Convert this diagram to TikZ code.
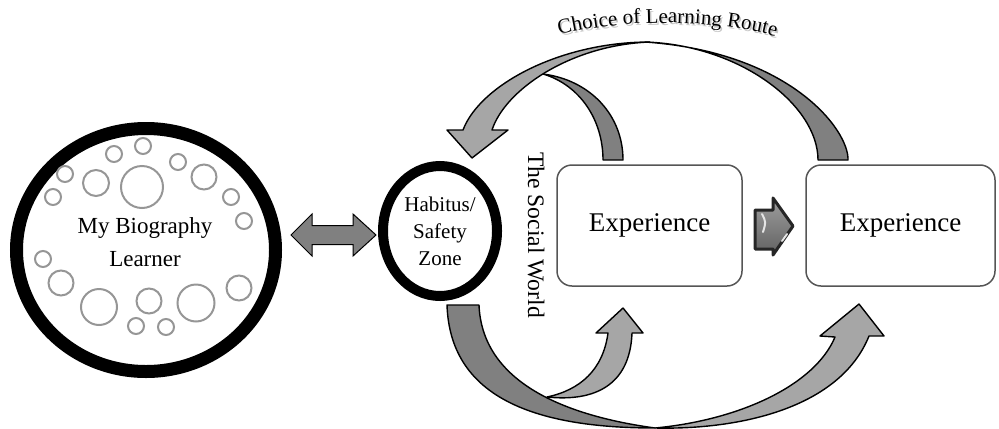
\documentclass[tikz,border=0pt]{standalone}
\usepackage{fontspec}
\setmainfont{Liberation Serif}
\usepackage{tikz}
\usetikzlibrary{shapes.geometric,positioning,calc,decorations.text}
\definecolor{bandlight}{RGB}{166,166,166}
\definecolor{banddark}{RGB}{128,128,128}
\definecolor{boxline}{RGB}{85,85,85}
\definecolor{bubble}{RGB}{150,150,150}

\begin{document}
\begin{tikzpicture}[x=0.5pt, y=-0.5pt,
        ring/.style={ellipse, draw=black, inner sep=0pt},
        expbox/.style={rectangle, rounded corners=7.5pt, draw=boxline, line width=0.75pt, minimum height=60.5pt, font=\fontsize{13.5}{16}\selectfont},
        band/.style={draw=black, line width=0.7pt, line join=round},
        bubbledot/.style={draw=bubble, line width=1pt}
    ]
        \useasboundingbox (0,0) rectangle (999,428);

        % My Biography
        \node[ring, line width=6.5pt, minimum width=129.5pt, minimum height=121.5pt] (bio) at (146,250) {};
        \foreach \bx/\by/\br in {143/146/8, 114/154/8, 178/162/8, 65/174/8, 96/183/13, 142/187/21,
                204/177/12.5, 53/197/8, 231/197/8, 244/221/8, 43/259/8, 61/283/12.5, 99/307/18,
                149/301/12.5, 196/303/18.5, 239/288/12.5, 136/326/8, 166/327/8}
            \draw[bubbledot] (\bx,\by) circle[radius=\br];
        \node[font=\fontsize{11.5}{16.5}\selectfont, align=center] (biotxt) at (145,242) {My Biography\\Learner};

        % Habitus
        \node[ring, line width=5pt, minimum width=57pt, minimum height=65pt, font=\fontsize{10.5}{13.5}\selectfont, align=center] (hab) at (440,231) {Habitus/\\Safety\\Zone};
        \node[rotate=-90, font=\fontsize{11.8}{14}\selectfont] (social) at (536,235) {The Social World};

        % Experiences
        \node[expbox, minimum width=92.5pt] (exp1) at (649.5,225.5) {Experience};
        \node[expbox, minimum width=94.5pt] (exp2) at (900.5,225.5) {Experience};

        % Link biography - habitus
        \draw[fill=banddark, line width=0.5pt] (291,235) -- (312,214) -- (312,225.5) -- (353,225.5) -- (353,214) -- (376,235)
            -- (353,256) -- (353,244.5) -- (312,244.5) -- (312,256) -- cycle;

        % Step between experiences
        \path[draw=black!85, line width=1.5pt, line join=round, top color=black!38, bottom color=black!62]
            (755,210) -- (773,210) -- (773,198) -- (793,226) -- (773,255) -- (773,249) -- (755,249) -- cycle;
        \draw[white!80!gray, line width=1pt, line cap=round] (762,214) .. controls (766,222) .. (763,232);
        \draw[white!80!gray, line width=1pt, line cap=round] (782,241) -- (787,234);

        % Choice of Learning Route
        \path[decorate, decoration={text along path, text align=center, text color=gray!45,
                text={|\fontsize{10.5}{12}\selectfont|Choice of Learning Route}}]
            (551.5,39) .. controls (621.5,20) and (716.5,20) .. (786.5,41);
        \path[decorate, decoration={text along path, text align=center,
                text={|\fontsize{10.5}{12}\selectfont|Choice of Learning Route}}]
            (550,37) .. controls (620,18) and (715,18) .. (785,39);

        % Top bands
        \draw[band, fill=banddark] (848,160) .. controls (849,130) and (790,52) .. (645,42)
            .. controls (740,45) and (818,105) .. (818,160) -- cycle;
        \draw[band, fill=banddark] (623,160) .. controls (623,115) and (590,80) .. (543,74)
            .. controls (580,85) and (603,120) .. (603,160) -- cycle;
        \draw[band, fill=bandlight] (650,42) .. controls (560,42) and (480,85) .. (463,130) -- (447,130) -- (472,158)
            -- (508,130) -- (492,130) .. controls (505,90) and (570,45) .. (650,42) -- cycle;

        % Bottom bands
        \draw[band, fill=banddark] (447,305) .. controls (450,395) and (530,428) .. (655,428)
            .. controls (560,415) and (482,380) .. (479,305) -- cycle;
        \draw[band, fill=bandlight] (547,397) .. controls (595,402) and (630,385) .. (632,333) -- (643,333) -- (623,308)
            -- (596,333) -- (608,333) .. controls (603,370) and (580,390) .. (547,397) -- cycle;
        \draw[band, fill=bandlight] (655,428) .. controls (740,430) and (840,408) .. (869,336) -- (884,336) -- (859,304)
            -- (820,336) -- (835,337) .. controls (815,385) and (740,420) .. (655,428) -- cycle;
    \end{tikzpicture}
\end{document}
